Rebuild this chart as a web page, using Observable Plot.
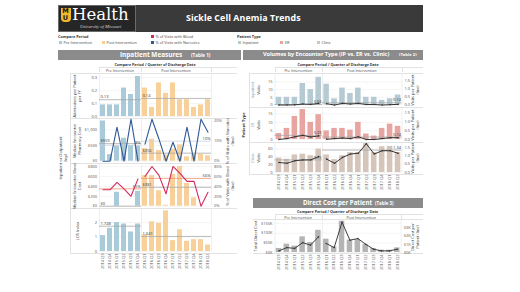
<!DOCTYPE html>
<html><head><meta charset="utf-8">
<script src="https://cdn.jsdelivr.net/npm/d3@7"></script>
<script src="https://cdn.jsdelivr.net/npm/@observablehq/plot@0.6"></script>
<style>
html,body{margin:0;padding:0;background:#fff;}
#root{position:relative;width:520px;height:292px;overflow:hidden;font-family:"Open Sans",sans-serif;color:#333;}
.a{position:absolute;white-space:nowrap;line-height:1;}
.v{position:absolute;white-space:nowrap;line-height:1.15;transform:translate(-50%,-50%) rotate(-90deg);text-align:center;}
.p{position:absolute;}
</style></head><body><div id="root"></div><script>
// ---------- data ----------
const quarters = ["2014 Q3","2014 Q4","2015 Q1","2015 Q2","2015 Q3","2015 Q4","2016 Q1","2016 Q2","2016 Q3","2016 Q4","2017 Q1","2017 Q2","2017 Q3","2017 Q4","2018 Q1","2018 Q2"];
const periods = ["Pre Intervention","Pre Intervention","Pre Intervention","Pre Intervention","Pre Intervention","Pre Intervention","Post Intervention","Post Intervention","Post Intervention","Post Intervention","Post Intervention","Post Intervention","Post Intervention","Post Intervention","Post Intervention","Post Intervention"];
const periodNames = ["Pre Intervention","Post Intervention"];

// Table 1
const admissionsPerPatient = [0.09,0.09,0.09,0.22,0.17,0.31, 0.22,0.07,0.26,0.18,0.26,0.13,0.13,0.07,0.09,0.13];
const admissionsRef = [0.13,0.14];
const pharmacyCost = [1280,210,480,730,500,480, 400,700,340,200,380,520,140,220,220,170];
const pharmacyRef = [559,256];
const narcoticsPct = [0,0,0.17,0,0.21,0, 0.085,0.21,0.11,0,0.095,0,0.17,0,0.21,0.145];
const narcoticsRef = [0.08,0.10];
const bloodCost = [0,0,280,0,0,300, 615,615,310,20,640,800,460,170,0,0];
const bloodRef = [0,381];
const bloodPct = [0.33,0.33,0.48,0.35,0.20,0.55, 0.60,0.80,0.62,0.25,0.80,0.66,0.50,0.50,0,0.28];
const bloodPctRef = [0.35,0.56];
const losIndex = [1.1,1.6,2.0,1.9,1.35,1.9, 1.15,2.05,1.95,2.8,0.75,1.5,0.7,0.82,0.82,0.45];
const losRef = [1.748,1.041];

// Table 2
const inpatientVisits = [5,5,5,14,10,18, 13.5,4,11,7.5,11,5,5,3,4,6.5];
const inpatientPerPatient = [0,0,0.01,0.06,0.04,0.1, 0.08,0,0.1,0.06,0.1,0.03,0.03,0,0.02,0.04];
const inpatientRef = [0.03,0.14];
const erVisits = [3.5,6.5,13.5,17.5,10,14.5, 5,6.5,6.5,5.5,10,3.2,2,6.5,9,7.7];
const erPerPatient = [0,0.05,0.15,0.23,0.14,0.2, 0.01,0.05,0.08,0.05,0.15,0,0,0.05,0.1,0.1];
const erRef = [0.23,0.14];
const clinicVisits = [37,34,45,47,43,60, 45,33,43,51,51,74,51,66,67,51];
const clinicPerPatient = [0.6,0.55,0.7,0.75,0.75,0.95, 0.8,0.55,0.9,1.1,1.15,1.72,1.1,1.3,1.3,1.15];
const clinicRef = [0.75,1.34];

// Table 3 ($K)
const totalDirectCost = [21,43,33,81,52,115, 69,29,162,64,67,41,21,12,12,24];
const costPerPatient = [0.2,0.6,0.5,1.2,0.9,1.9, 1.1,0.6,3.7,1.5,1.7,1.0,0.4,0.2,0.2,0.4];

// ---------- styles ----------
const C = {
  pre:"#a9cad9", post:"#f8d099", blood:"#d42a5b", narc:"#2f5a94", bloodRef:"#ef9270",
  inp:"#b5cad2", er:"#e8a4a1", clinic:"#d5c4b9", dark:"#3a3a3a", gray:"#b4b4b4",
  ref:"#a8a8a8", tick:"#555", hdr:"#8b8b8b", line:"#e2e2e2"
};
const FONT = "'Open Sans', sans-serif";
const n = quarters.length;
const preCount = periods.filter(p => p === periodNames[0]).length;

const root = document.getElementById("root");
function el(html, css, cls = "a") { const d = document.createElement("div"); d.className = cls; d.innerHTML = html; d.style.cssText = css; root.appendChild(d); return d; }
function hline(x1, x2, y, c = C.line) { el("", `left:${x1}px;top:${y}px;width:${x2-x1}px;height:0;border-top:0.6px solid ${c};`, "p"); }
function vline(x, y1, y2, c = C.line) { el("", `left:${x}px;top:${y1}px;width:0;height:${y2-y1}px;border-left:0.6px solid ${c};`, "p"); }
function vtext(t, x, y, css = "") { el(t, `left:${x}px;top:${y}px;font-size:4px;${css}`, "v"); }

// ---------- generic row panel ----------
function rowPlot(o) {
  const data = quarters.map((q, i) => ({i, q, p: i < preCount ? 0 : 1, v: o.bars[i], l: o.line ? o.line[i] : null}));
  const span = p => p ? [preCount, n] : [0, preCount];
  const marks = [];
  marks.push(Plot.ruleY(o.yTicks, {stroke: "#efefef", strokeWidth: 0.6}));
  marks.push(Plot.ruleX([0, preCount, n], {stroke: "#e4e4e4", strokeWidth: 0.6}));
  marks.push(Plot.rectY(data, {x1: "i", x2: d => d.i + 1, y: "v", fill: d => Array.isArray(o.barColor) ? o.barColor[d.p] : o.barColor, insetLeft: o.inset, insetRight: o.inset}));
  if (o.refs) {
    const rd = o.refs.map((v, p) => ({v, p, x1: span(p)[0], x2: span(p)[1]}));
    marks.push(Plot.ruleY(rd, {y: "v", x1: "x1", x2: "x2", stroke: C.ref, strokeWidth: 0.8}));
    marks.push(Plot.text(rd, {x: "x1", y: "v", text: d => o.refFmt(d.v), textAnchor: "start", dx: 1, dy: -2.6, fontSize: 4, fill: "#333"}));
  }
  if (o.line) {
    if (o.lineRefs) {
      const rd = o.lineRefs.map((v, p) => ({v, p, x1: span(p)[0], x2: span(p)[1]}));
      marks.push(Plot.ruleY(rd, {y: d => d.v * o.k, x1: "x1", x2: "x2", stroke: o.lineRefColor || C.ref, strokeWidth: 0.8}));
      marks.push(Plot.text(rd, {x: "x2", y: d => d.v * o.k, text: d => o.rFmt2(d.v), textAnchor: "end", dx: -1, dy: -2.6, fontSize: 4, fill: "#333"}));
    }
    marks.push(Plot.line(data, {x: d => d.i + 0.5, y: d => d.l * o.k, z: "p", stroke: o.lineColor, strokeWidth: o.lineWidth || 1}));
    if (o.dots) marks.push(Plot.dot(data, {x: d => d.i + 0.5, y: d => d.l * o.k, r: 0.8, fill: o.lineColor}));
  }
  marks.push(Plot.axisY(o.yTicks, {anchor: "left", tickFormat: o.yFmt, tickSize: 0, tickPadding: 2.5, fontSize: 4, fill: C.tick, label: null}));
  if (o.rTicks) marks.push(Plot.axisY(o.rTicks.map(t => t * o.k), {anchor: "right", tickFormat: d => o.rFmt(d / o.k), tickSize: 0, tickPadding: 2.5, fontSize: 4, fill: C.tick, label: null}));
  if (o.xAxis) marks.push(Plot.axisX(d3.range(n).map(i => i + 0.5), {anchor: "bottom", tickFormat: d => quarters[Math.floor(d)], tickRotate: -90, tickSize: 0, tickPadding: 2, fontSize: 4, fill: C.tick, label: null}));
  const svg = Plot.plot({
    width: o.w, height: o.h, marginLeft: o.mL, marginRight: o.mR, marginTop: 0, marginBottom: o.mB,
    x: {domain: [0, n], axis: null}, y: {domain: [0, o.yMax], axis: null},
    style: {fontFamily: FONT, fontSize: "4px", background: "transparent", overflow: "visible"},
    marks
  });
  svg.style.position = "absolute"; svg.style.left = o.x + "px"; svg.style.top = o.y + "px"; svg.style.overflow = "visible";
  root.appendChild(svg);
}

const usd = d => "$" + d3.format(",")(Math.round(d));
const pct = d3.format(".0%");
const f1 = d3.format(".1f"), f2 = d3.format(".2f"), f3 = d3.format(".3f");
const kusd = d => "$" + Math.round(d) + "K";

// ---------- title bar ----------
el("", `left:58px;top:5px;width:365px;height:27px;background:${C.dark};`, "p");
el("", "left:58px;top:5px;width:78px;height:26.5px;background:#262626;border:0.6px solid #6a6a6a;box-sizing:border-box;", "p");
el("<div>M</div><div>U</div>", "left:60.5px;top:8px;width:10px;height:14px;background:#f1b82d;color:#111;font-family:'DejaVu Sans',sans-serif;font-weight:bold;font-size:6.5px;line-height:6.6px;text-align:center;border-radius:0 0 4px 4px;");
el("Health", "left:72px;top:6.5px;font-family:'DejaVu Serif','Liberation Serif',serif;font-size:16.5px;color:#fff;");
el("University of Missouri", "left:80px;top:24.5px;font-family:'Liberation Serif',serif;font-style:italic;font-size:4.6px;color:#d8d8d8;");
el("Sickle Cell Anemia Trends", "left:186px;top:14px;font-size:8.8px;font-weight:bold;color:#fff;letter-spacing:0.1px;");

// ---------- legends ----------
function sw(x, y, c) { el("", `left:${x}px;top:${y}px;width:3px;height:3px;background:${c};`, "p"); }
el("Compare Period", "left:58px;top:34.5px;font-size:3.8px;font-weight:bold;");
sw(58.5, 41, C.pre); el(periodNames[0], "left:63.5px;top:40.6px;font-size:3.8px;color:#444;");
sw(101.5, 41, C.post); el(periodNames[1], "left:106.5px;top:40.6px;font-size:3.8px;color:#444;");
sw(150.5, 35, C.blood); el("% of Visits with Blood", "left:155.5px;top:34.7px;font-size:3.8px;color:#444;");
sw(150.5, 41, C.narc); el("% of Visits with Narcotics", "left:155.5px;top:40.6px;font-size:3.8px;color:#444;");
el("Patient Type", "left:237px;top:34.5px;font-size:3.8px;font-weight:bold;");
sw(237.5, 41, C.inp); el("Inpatient", "left:242.5px;top:40.6px;font-size:3.8px;color:#444;");
sw(280, 41, C.er); el("ER", "left:285px;top:40.6px;font-size:3.8px;color:#444;");
sw(316.5, 41, C.clinic); el("Clinic", "left:321.5px;top:40.6px;font-size:3.8px;color:#444;");

// ---------- section headers ----------
el("", `left:58px;top:49.5px;width:183px;height:10.5px;background:${C.hdr};`, "p");
el("Inpatient Measures", "left:120px;top:51.5px;font-size:6.4px;font-weight:bold;color:#fff;");
el("(Table 1)", "left:191px;top:52.5px;font-size:4.6px;font-weight:bold;color:#fff;");
el("", `left:243px;top:49.5px;width:180px;height:10.5px;background:${C.hdr};`, "p");
el("Volumes by Encounter Type (IP vs. ER vs. Clinic)", "left:263px;top:52px;font-size:5.5px;font-weight:bold;color:#fff;letter-spacing:-0.05px;");
el("(Table 2)", "left:399px;top:52.8px;font-size:4.2px;font-weight:bold;color:#fff;");
el("", `left:253.3px;top:198.3px;width:169.7px;height:9.4px;background:${C.hdr};`, "p");
el("Direct Cost per Patient", "left:303px;top:199.6px;font-size:6.1px;font-weight:bold;color:#fff;");
el("(Table 3)", "left:375px;top:200.6px;font-size:4.4px;font-weight:bold;color:#fff;");

// column headers
function colHeader(fx1, fdiv, fx2, y, right) {
  el("Compare Period / Quarter of Discharge Date", `left:${(fx1+fx2)/2}px;top:${y}px;font-size:3.7px;font-weight:bold;transform:translateX(-50%);`);
  hline(fx1, right, y + 4.7);
  el(periodNames[0], `left:${(fx1+fdiv)/2}px;top:${y+6}px;font-size:3.7px;color:#444;transform:translateX(-50%);`);
  el(periodNames[1], `left:${(fdiv+fx2)/2}px;top:${y+6}px;font-size:3.7px;color:#444;transform:translateX(-50%);`);
  vline(fx1, y + 4.7, y + 9.5); vline(fdiv, y + 4.7, y + 9.5); vline(fx2, y + 4.7, y + 9.5);
}
colHeader(99, 99 + 112 * preCount / n, 211, 62.5, 237);
colHeader(274.5, 274.5 + 127 * preCount / n, 401.5, 62.5, 423);
colHeader(274.5, 274.5 + 126.2 * preCount / n, 400.7, 209.5, 423);

// ---------- Table 1 ----------
[73, 118, 163, 208, 253].forEach(y => hline(70, 237, y));
vline(70, 73, 253);
vtext("Inpatient or Outpatient<br>(Inp)", 63.5, 158, "color:#333;");
const T1 = {x: 58, w: 183, mL: 41, mR: 30, inset: 1, barColor: [C.pre, C.post]};
rowPlot({...T1, y: 73, h: 45, mB: 2, yMax: 0.333, bars: admissionsPerPatient, yTicks: [0, 0.1, 0.2, 0.3], yFmt: f1, refs: admissionsRef, refFmt: f2});
vtext("Admissions per Patient<br>per FY", 77.5, 95.5);
rowPlot({...T1, y: 118, h: 45, mB: 2.3, yMax: 1360, bars: pharmacyCost, yTicks: [0, 500, 1000], yFmt: usd, refs: pharmacyRef, refFmt: usd,
  line: narcoticsPct, k: 6370, lineColor: C.narc, lineWidth: 1.1, rTicks: [0, 0.1, 0.2], rFmt: pct, lineRefs: narcoticsRef, rFmt2: pct, lineRefColor: "#c9d3e2"});
vtext("Median Encounter<br>Pharmacy Cost", 77.5, 140.5);
vtext("% of Visits with Narcotics<br>(line)", 231, 140.5);
rowPlot({...T1, y: 163, h: 45, mB: 2.3, yMax: 860, bars: bloodCost, yTicks: [0, 200, 400, 600, 800], yFmt: usd, refs: bloodRef, refFmt: usd,
  line: bloodPct, k: 1000, lineColor: C.blood, lineWidth: 1.1, rTicks: [0, 0.2, 0.4, 0.6, 0.8], rFmt: pct, lineRefs: bloodPctRef, rFmt2: pct, lineRefColor: C.bloodRef});
vtext("Median Encounter Blood<br>Cost", 77.5, 185.5);
vtext("% of Visits with Blood<br>(line)", 231, 185.5);
rowPlot({...T1, y: 208, h: 69, mB: 26, yMax: 2.97, bars: losIndex, yTicks: [0, 1, 2], yFmt: d3.format("d"), refs: losRef, refFmt: f3, xAxis: true});
vtext("LOS Index", 77.5, 230.5);

// ---------- Table 2 ----------
[73, 107, 142, 174].forEach(y => hline(249, 423, y));
vline(249, 73, 174);
vtext("Patient Type", 244, 125, "font-weight:bold;");
const T2 = {x: 243, w: 180, mL: 31.5, mR: 21.5, inset: 1.2, dots: true, lineColor: "#333", rTicks: [0, 0.5, 1, 1.5], rFmt: f1, rFmt2: f2};
rowPlot({...T2, y: 73, h: 34, mB: 2.5, yMax: 20.5, bars: inpatientVisits, barColor: C.inp, yTicks: [0, 5, 10, 15], yFmt: d3.format("d"),
  line: inpatientPerPatient, k: 10.4, lineRefs: inpatientRef});
rowPlot({...T2, y: 107, h: 35, mB: 3, yMax: 18.7, bars: erVisits, barColor: C.er, yTicks: [0, 5, 10, 15], yFmt: d3.format("d"),
  line: erPerPatient, k: 10.5, lineRefs: erRef});
rowPlot({...T2, y: 142, h: 56, mB: 26, yMax: 77, bars: clinicVisits, barColor: C.clinic, yTicks: [0, 20, 40, 60], yFmt: d3.format("d"),
  line: clinicPerPatient, k: 43, lineRefs: clinicRef, xAxis: true});
[["Inpatient", 90], ["ER", 124.5], ["Clinic", 158]].forEach(([t, y]) => {
  vtext(t, 252.5, y, "color:#8c9aa1;");
  vtext("Visits", 258.5, y, "color:#333;");
  vtext("Visits per Patient<br>(line)", 416, y, "color:#333;");
});

// ---------- Table 3 ----------
hline(253.3, 423, 219); hline(253.3, 423, 252.6);
rowPlot({x: 253, y: 219, w: 170, h: 60, mL: 21.5, mR: 22.3, mB: 27, yMax: 171, bars: totalDirectCost, barColor: C.gray, inset: 1.2,
  yTicks: [0, 50, 100, 150], yFmt: kusd, line: costPerPatient, k: 42.5, lineColor: "#3d3d3d", dots: true, rTicks: [0, 1, 2, 3], rFmt: kusd, xAxis: true});
vtext("Total Direct Cost", 256, 236, "color:#333;");
vtext("Direct Cost per<br>Patient (line)", 415.5, 237, "color:#333;");
</script></body></html>
